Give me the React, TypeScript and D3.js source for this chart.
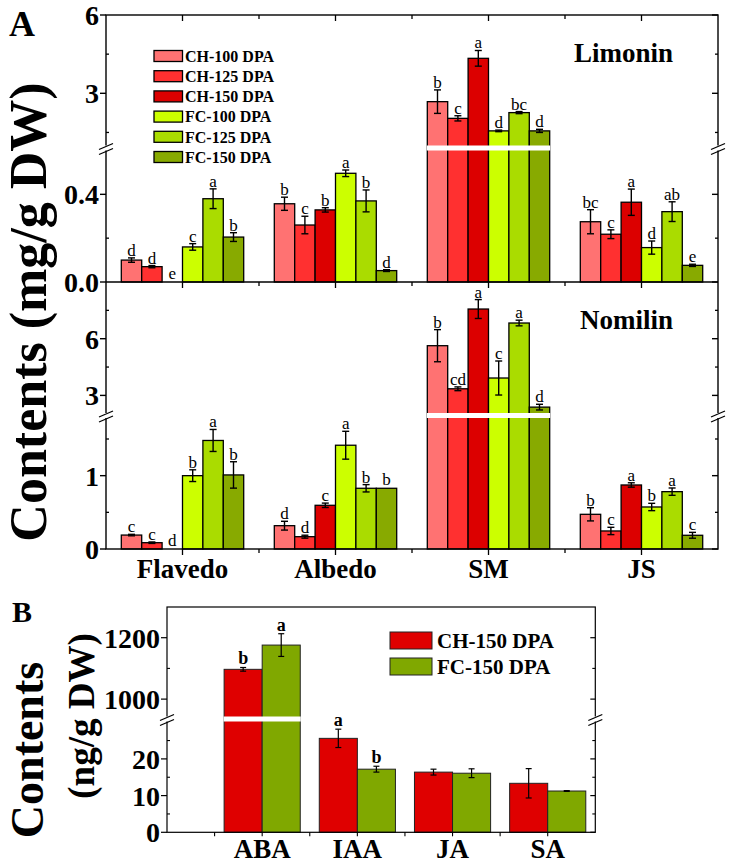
import React from "react";
import * as d3 from "d3";

const FONT = "'Liberation Serif', 'Times New Roman', serif";

// ---------- Panel A data ----------
const tissues = ["Flavedo", "Albedo", "SM", "JS"];
const seriesA = ["CH-100 DPA", "CH-125 DPA", "CH-150 DPA", "FC-100 DPA", "FC-125 DPA", "FC-150 DPA"];
const colorsA = ["#ff7272", "#ff3030", "#dc0000", "#ccff00", "#aadc00", "#88aa00"];

const limoninVals = [
  [0.10, 0.07, 0, 0.16, 0.38, 0.205],
  [0.357, 0.26, 0.329, 0.496, 0.37, 0.052],
  [2.68, 2.04, 4.34, 1.56, 2.26, 1.56],
  [0.275, 0.218, 0.364, 0.157, 0.321, 0.076],
];
const limoninErr = [
  [0.01, 0.005, 0, 0.015, 0.045, 0.02],
  [0.03, 0.04, 0.01, 0.015, 0.05, 0.004],
  [0.45, 0.1, 0.3, 0.03, 0.04, 0.06],
  [0.055, 0.02, 0.06, 0.03, 0.045, 0.005],
];
const limoninLetters = [
  ["d", "d", "e", "c", "a", "b"],
  ["b", "c", "b", "a", "b", "d"],
  ["b", "c", "a", "d", "bc", "d"],
  ["bc", "c", "a", "d", "ab", "e"],
];

const nomilinVals = [
  [0.19, 0.086, 0, 1.0, 1.48, 1.01],
  [0.318, 0.168, 0.596, 1.415, 0.828, 0.828],
  [5.63, 3.35, 7.57, 3.92, 6.83, 2.38],
  [0.473, 0.246, 0.873, 0.573, 0.782, 0.187],
];
const nomilinErr = [
  [0.01, 0.01, 0, 0.08, 0.15, 0.18],
  [0.06, 0.02, 0.03, 0.19, 0.05, 0],
  [0.85, 0.1, 0.5, 0.9, 0.15, 0.15],
  [0.09, 0.05, 0.03, 0.05, 0.05, 0.04],
];
const nomilinLetters = [
  ["c", "c", "d", "b", "a", "b"],
  ["d", "d", "c", "a", "b", "b"],
  ["b", "cd", "a", "c", "a", "d"],
  ["b", "c", "a", "b", "a", "c"],
];

const limoninMajor = [0, 0.4, 3, 6];
const limoninMajorLabels = ["0.0", "0.4", "3", "6"];
const limoninMinor = [0.2, 1.5, 4.5];
const nomilinMajor = [0, 1, 3, 6];
const nomilinMajorLabels = ["0", "1", "3", "6"];
const nomilinMinor = [0.5, 1.5, 4.5, 7.5];

// ---------- Panel B data ----------
const hormones = ["ABA", "IAA", "JA", "SA"];
const seriesB = ["CH-150 DPA", "FC-150 DPA"];
const colorsB = ["#df0000", "#80a800"];
const hormoneVals = [
  [1097, 1176],
  [25.6, 17.2],
  [16.4, 16.1],
  [13.35, 11.25],
];
const hormoneErr = [
  [6, 37],
  [2.5, 0.8],
  [0.8, 1.2],
  [4, 0.1],
];
const hormoneLetters = [
  ["b", "a"],
  ["a", "b"],
  ["", ""],
  ["", ""],
];
const hormoneMajor = [0, 10, 20, 1000, 1200];
const hormoneMajorLabels = ["0", "10", "20", "1000", "1200"];
const hormoneMinor = [5, 15, 25, 1100];

type SegDef = {
  lo: [number, number];
  loR: [number, number];
  up: [number, number];
  upR: [number, number];
  brk: number;
};

function makeSeg(s: SegDef) {
  const lo = d3.scaleLinear().domain(s.lo).range(s.loR);
  const up = d3.scaleLinear().domain(s.up).range(s.upR);
  return (v: number) => (v <= s.lo[1] ? lo(v) : up(Math.max(v, s.up[0])));
}

const AX = { left: 106, right: 718 };
const limSeg: SegDef = { lo: [0, 0.6], loR: [282, 150.5], up: [1, 6], upR: [145.5, 15], brk: 148 };
const nomSeg: SegDef = { lo: [0, 1.8], loR: [549, 417], up: [2, 9], upR: [414.3, 282], brk: 415.5 };
const horSeg: SegDef = { lo: [0, 30], loR: [832.3, 722.2], up: [945, 1300], upR: [716, 607], brk: 719 };

function BreakMark({ x, y }: { x: number; y: number }) {
  return (
    <g>
      <rect x={x - 3} y={y - 2.5} width={6} height={5} fill="white" />
      <line x1={x - 7} y1={y + 1.5} x2={x + 7} y2={y - 4.5} stroke="black" strokeWidth={1.3} />
      <line x1={x - 7} y1={y + 6.5} x2={x + 7} y2={y + 0.5} stroke="black" strokeWidth={1.3} />
    </g>
  );
}

function PanelABars({
  vals, errs, letters, seg, base,
}: { vals: number[][]; errs: number[][]; letters: string[][]; seg: SegDef; base: number }) {
  const x = d3.scaleLinear().domain([0, 8]).range([AX.left, AX.right]);
  const y = makeSeg(seg);
  const bw = x(1.6 / 6) - x(0);
  const out: React.ReactNode[] = [];
  tissues.forEach((t, ti) => {
    const cx = 1 + ti * 2;
    const gx0 = x(cx - 0.8);
    let needsBreak = false;
    vals[ti].forEach((v, si) => {
      const bx = gx0 + si * bw;
      const top = y(v);
      if (v > seg.lo[1]) needsBreak = true;
      if (v > 0) {
        out.push(
          <rect key={`b${ti}-${si}`} x={bx} y={top} width={bw} height={base - top}
            fill={colorsA[si]} stroke="black" strokeWidth={1.3} />
        );
      }
      const e = errs[ti][si];
      const mx = bx + bw / 2;
      let labY = top - 3;
      if (e > 0) {
        const y1 = y(v + e);
        const y2 = y(v - e);
        out.push(
          <g key={`e${ti}-${si}`} stroke="black" strokeWidth={1.4}>
            <line x1={mx} x2={mx} y1={y1} y2={y2} />
            <line x1={mx - 3.5} x2={mx + 3.5} y1={y1} y2={y1} />
            <line x1={mx - 3.5} x2={mx + 3.5} y1={y2} y2={y2} />
          </g>
        );
        labY = y1 - 2;
      }
      out.push(
        <text key={`l${ti}-${si}`} x={mx} y={labY} textAnchor="middle" fontSize={17}
          fontFamily={FONT}>{letters[ti][si]}</text>
      );
    });
    if (needsBreak) {
      out.push(
        <rect key={`wb${ti}`} x={gx0 - 0.5} y={seg.brk - 2.5} width={bw * 6 + 1} height={5} fill="white" />
      );
    }
  });
  return <g>{out}</g>;
}

function YAxisA({ seg, major, labels, minor }: { seg: SegDef; major: number[]; labels: string[]; minor: number[] }) {
  const y = makeSeg(seg);
  return (
    <g>
      {major.map((v, i) => (
        <g key={`M${i}`}>
          <line x1={AX.left - 6} x2={AX.left} y1={y(v)} y2={y(v)} stroke="black" strokeWidth={1.4} />
          <line x1={AX.right - 6} x2={AX.right} y1={y(v)} y2={y(v)} stroke="black" strokeWidth={1.4} />
          <text x={AX.left - 7} y={y(v)} dy="0.36em" textAnchor="end" fontSize={28} fontWeight="bold"
            fontFamily={FONT}>{labels[i]}</text>
        </g>
      ))}
      {minor.map((v, i) => (
        <g key={`m${i}`}>
          <line x1={AX.left} x2={AX.left + 3} y1={y(v)} y2={y(v)} stroke="black" strokeWidth={1.3} />
          <line x1={AX.right - 3} x2={AX.right} y1={y(v)} y2={y(v)} stroke="black" strokeWidth={1.3} />
        </g>
      ))}
      <BreakMark x={AX.left} y={seg.brk} />
      <BreakMark x={AX.right} y={seg.brk} />
    </g>
  );
}

function XTicksA({ yPos, dir }: { yPos: number; dir: number }) {
  const x = d3.scaleLinear().domain([0, 8]).range([AX.left, AX.right]);
  const ticks = d3.range(1, 8);
  return (
    <g stroke="black" strokeWidth={1.3}>
      {ticks.map((t) => (
        <line key={t} x1={x(t)} x2={x(t)} y1={yPos} y2={yPos + dir * (t % 2 === 1 ? 6 : 4)} />
      ))}
    </g>
  );
}

function PanelB() {
  const L = 167, R = 595.3, T = 607, B = 832.3;
  const x = d3.scaleLinear().domain([-1, 3.5]).range([L, R]);
  const y = makeSeg(horSeg);
  const bw = x(0.4) - x(0);
  const items: React.ReactNode[] = [];
  hormones.forEach((h, hi) => {
    let needsBreak = false;
    hormoneVals[hi].forEach((v, si) => {
      const bx = x(hi - 0.4) + si * bw;
      const top = y(v);
      if (v > horSeg.lo[1]) needsBreak = true;
      items.push(
        <rect key={`b${hi}-${si}`} x={bx} y={top} width={bw} height={B - top}
          fill={colorsB[si]} stroke="#222" strokeWidth={1} />
      );
      const e = hormoneErr[hi][si];
      const mx = bx + bw / 2;
      const y1 = y(v + e), y2 = y(v - e);
      items.push(
        <g key={`e${hi}-${si}`} stroke="black" strokeWidth={1.2}>
          <line x1={mx} x2={mx} y1={y1} y2={y2} />
          <line x1={mx - 3} x2={mx + 3} y1={y1} y2={y1} />
          <line x1={mx - 3} x2={mx + 3} y1={y2} y2={y2} />
        </g>
      );
      if (hormoneLetters[hi][si]) {
        items.push(
          <text key={`l${hi}-${si}`} x={mx} y={y1 - 3} textAnchor="middle" fontSize={18} fontWeight="bold"
            fontFamily={FONT}>{hormoneLetters[hi][si]}</text>
        );
      }
    });
    if (needsBreak) {
      items.push(
        <rect key={`wb${hi}`} x={x(hi - 0.4) - 0.5} y={horSeg.brk - 2.5} width={bw * 2 + 1} height={5} fill="white" />
      );
    }
  });
  const xt = d3.range(-0.5, 3.01, 0.5);
  return (
    <g>
      {items}
      <rect x={L} y={T} width={R - L} height={B - T} fill="none" stroke="black" strokeWidth={1.2} />
      {hormoneMajor.map((v, i) => (
        <g key={`M${i}`}>
          <line x1={L - 6} x2={L} y1={y(v)} y2={y(v)} stroke="black" strokeWidth={1.2} />
          <line x1={R - 5} x2={R} y1={y(v)} y2={y(v)} stroke="black" strokeWidth={1.2} />
          <text x={L - 7} y={y(v)} dy="0.36em" textAnchor="end" fontSize={28} fontWeight="bold"
            fontFamily={FONT}>{hormoneMajorLabels[i]}</text>
        </g>
      ))}
      {hormoneMinor.map((v, i) => (
        <g key={`m${i}`}>
          <line x1={L} x2={L + 3} y1={y(v)} y2={y(v)} stroke="black" strokeWidth={1.1} />
          <line x1={R - 3} x2={R} y1={y(v)} y2={y(v)} stroke="black" strokeWidth={1.1} />
        </g>
      ))}
      <BreakMark x={L} y={horSeg.brk} />
      <BreakMark x={R} y={horSeg.brk} />
      {xt.map((t, i) => (
        <line key={`xt${i}`} x1={x(t)} x2={x(t)} y1={B} y2={B + 4} stroke="black" strokeWidth={1.1} />
      ))}
      {hormones.map((h, i) => (
        <text key={h} x={x(i)} y={858} textAnchor="middle" fontSize={27} fontWeight="bold"
          fontFamily={FONT}>{h}</text>
      ))}
      {seriesB.map((s, i) => (
        <g key={s}>
          <rect x={390} y={632 + i * 26} width={42} height={17} fill={colorsB[i]} stroke="#222" strokeWidth={1} />
          <text x={437} y={632 + i * 26 + 8.5} dy="0.36em" fontSize={21} fontWeight="bold"
            fontFamily={FONT}>{s}</text>
        </g>
      ))}
      <text transform="translate(43,750) rotate(-90)" textAnchor="middle" fontSize={46} fontWeight="bold"
        fontFamily={FONT}>Contents</text>
      <text transform="translate(94,716) rotate(-90)" textAnchor="middle" fontSize={37} fontWeight="bold"
        fontFamily={FONT}>(ng/g DW)</text>
      <text x={12} y={622} fontSize={30} fontWeight="bold" fontFamily={FONT}>B</text>
    </g>
  );
}

export default function App() {
  const xA = d3.scaleLinear().domain([0, 8]).range([AX.left, AX.right]);
  return (
    <svg width={729} height={864} viewBox="0 0 729 864"
      style={{ position: "absolute", left: 0, top: 0, background: "white" }}>
      <rect x={0} y={0} width={729} height={864} fill="white" />
      {/* Panel A */}
      <PanelABars vals={limoninVals} errs={limoninErr} letters={limoninLetters} seg={limSeg} base={282} />
      <PanelABars vals={nomilinVals} errs={nomilinErr} letters={nomilinLetters} seg={nomSeg} base={549} />
      <rect x={AX.left} y={15} width={AX.right - AX.left} height={534} fill="none" stroke="black" strokeWidth={1.4} />
      <line x1={AX.left} x2={AX.right} y1={282} y2={282} stroke="black" strokeWidth={1.4} />
      <YAxisA seg={limSeg} major={limoninMajor} labels={limoninMajorLabels} minor={limoninMinor} />
      <YAxisA seg={nomSeg} major={nomilinMajor} labels={nomilinMajorLabels} minor={nomilinMinor} />
      <XTicksA yPos={15} dir={1} />
      <XTicksA yPos={282} dir={1} />
      <XTicksA yPos={549} dir={1} />
      {tissues.map((t, i) => (
        <text key={t} x={xA(1 + i * 2)} y={578} textAnchor="middle" fontSize={27} fontWeight="bold"
          fontFamily={FONT}>{t}</text>
      ))}
      <text x={673} y={62} textAnchor="end" fontSize={27} fontWeight="bold" fontFamily={FONT}>Limonin</text>
      <text x={673} y={329} textAnchor="end" fontSize={27} fontWeight="bold" fontFamily={FONT}>Nomilin</text>
      {seriesA.map((s, i) => (
        <g key={s}>
          <rect x={154} y={50.5 + i * 20.2} width={28.5} height={11} fill={colorsA[i]} stroke="black" strokeWidth={1.3} />
          <text x={185} y={56 + i * 20.2} dy="0.36em" fontSize={16} fontWeight="bold" fontFamily={FONT}>{s}</text>
        </g>
      ))}
      <text transform="translate(46,312) rotate(-90)" textAnchor="middle" fontSize={52} fontWeight="bold"
        fontFamily={FONT}>Contents (mg/g DW)</text>
      <text x={9} y={36} fontSize={36} fontWeight="bold" fontFamily={FONT}>A</text>
      <PanelB />
    </svg>
  );
}
